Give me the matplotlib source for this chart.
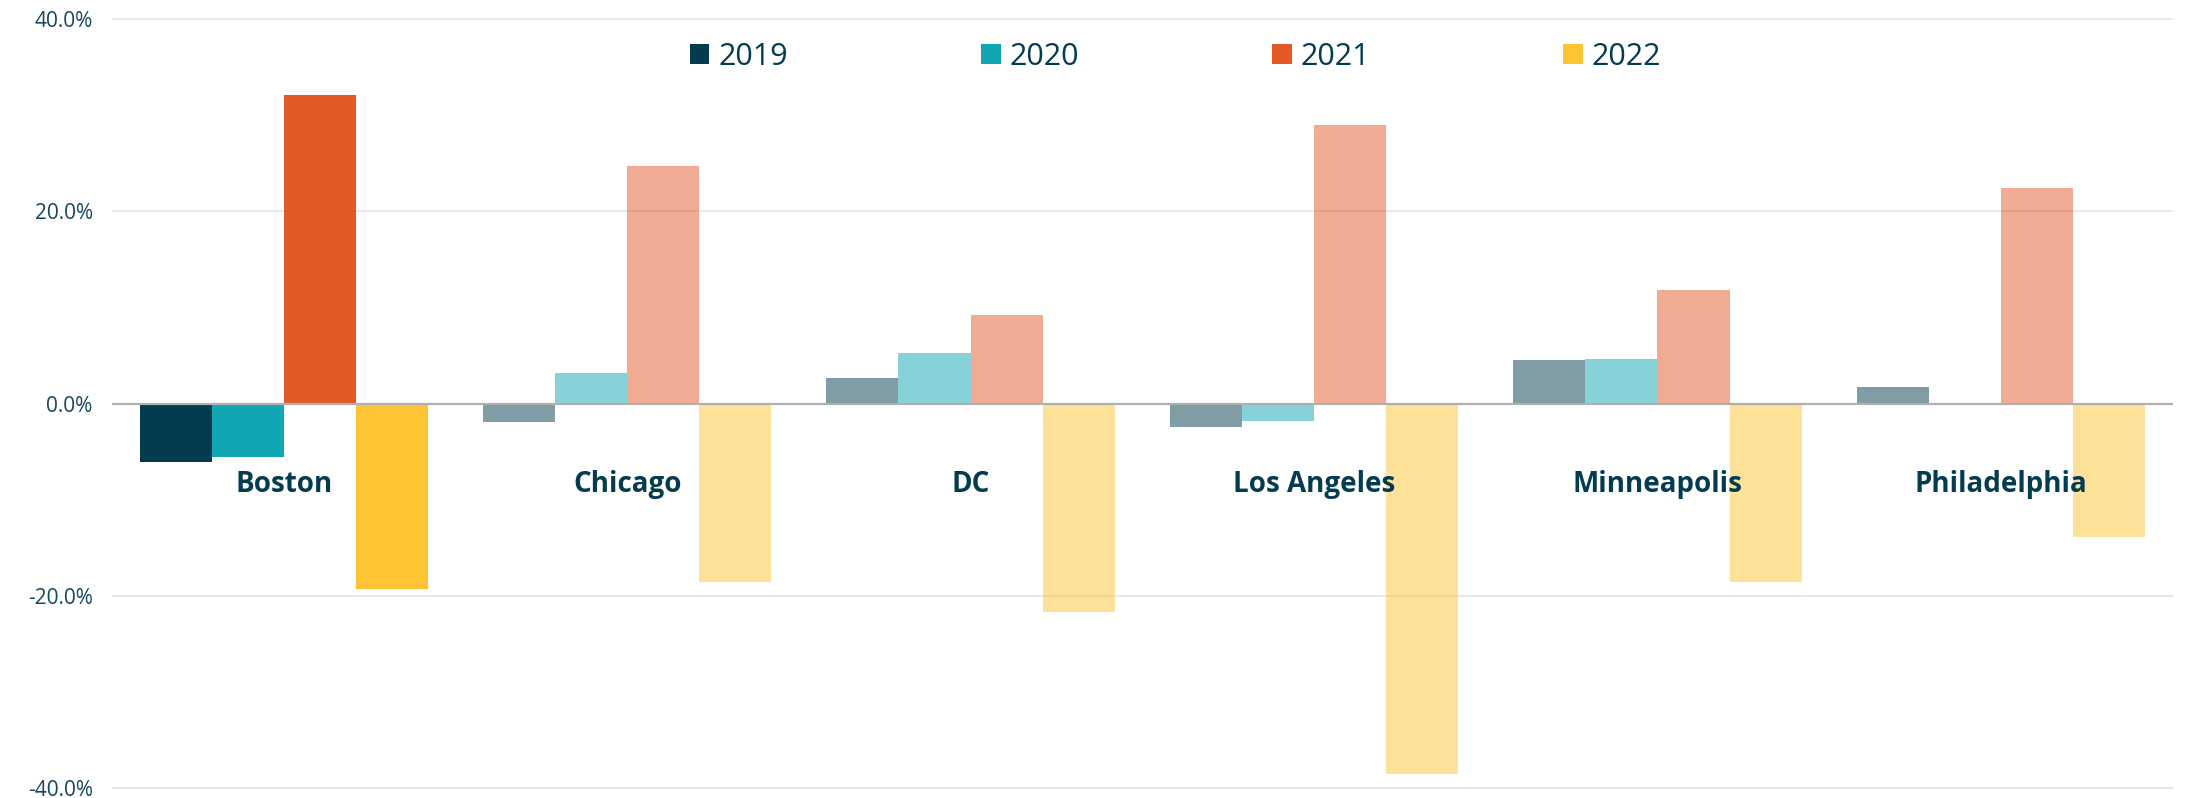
import numpy as np
import matplotlib.pyplot as plt
from matplotlib.patches import Patch
from matplotlib.ticker import FuncFormatter

# Year-over-year change by city
cities = ["Boston", "Chicago", "DC", "Los Angeles", "Minneapolis", "Philadelphia"]
years = ["2019", "2020", "2021", "2022"]
v2019 = [-6.1, -1.9, 2.7, -2.4, 4.5, 1.7]
v2020 = [-5.6, 3.2, 5.3, -1.8, 4.6, 0.0]
v2021 = [32.1, 24.7, 9.2, 29.0, 11.8, 22.4]
v2022 = [-19.3, -18.5, -21.7, -38.5, -18.5, -13.9]
series = [v2019, v2020, v2021, v2022]
colors = ["#033c4f", "#10a6b4", "#e25926", "#fec434"]
highlight = "Boston"

plt.rcParams["font.family"] = ["Open Sans", "DejaVu Sans"]

fig = plt.figure(figsize=(21.85, 7.98), dpi=100)
ax = fig.add_axes([0.0513, 0.006, 0.9430, 0.9765])

x = np.arange(len(cities))
w = 0.21
for j, vals in enumerate(series):
    for i, c in enumerate(cities):
        a = 1.0 if c == highlight else 0.5
        ax.bar(x[i] + (j - 1.5) * w, vals[i], width=w, color=colors[j],
               alpha=a, zorder=2, linewidth=0)

# city labels sit inside the plot below zero
for i, c in enumerate(cities):
    ax.text(x[i], -9.2, c, ha="center", va="baseline", fontsize=20,
            fontweight="bold", color="#033c4f", zorder=5)

ax.set_xlim(-0.5, len(cities) - 0.5)
ax.set_ylim(-40.5, 40.5)
ax.set_yticks([-40, -20, 0, 20, 40])
ax.yaxis.set_major_formatter(FuncFormatter(lambda v, p: f"{v:.1f}%"))
ax.tick_params(axis="y", length=0, pad=14, labelsize=15, labelcolor="#17475a")
ax.set_xticks([])
ax.grid(axis="y", color="#e6e6e6", linewidth=1.3, zorder=0)
ax.axhline(0, color="#b0b0b0", linewidth=1.6, zorder=3)
for s in ax.spines.values():
    s.set_visible(False)

handles = [Patch(facecolor=colors[j], label=years[j]) for j in range(4)]
fig.legend(handles=handles, loc="center", bbox_to_anchor=(0.538, 0.929),
           ncol=4, frameon=False, fontsize=22, handlelength=0.65,
           handleheight=0.65, handletextpad=0.3, columnspacing=6.3,
           labelcolor="#033c4f")

fig.savefig("out.png", dpi=100)
